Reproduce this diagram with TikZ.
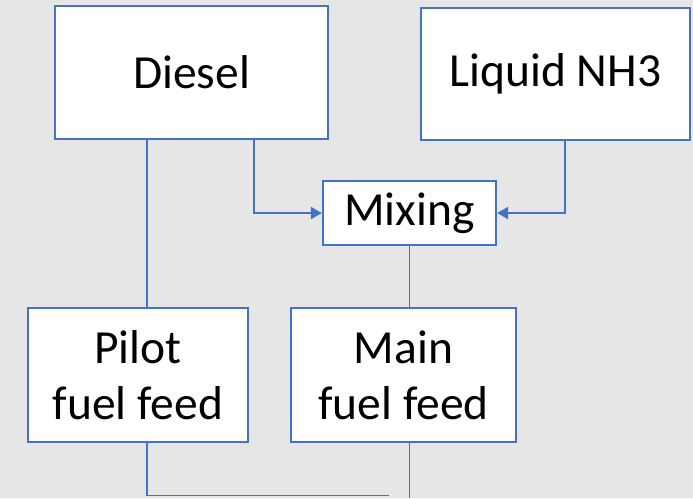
\documentclass[tikz,border=0pt]{standalone}
\usepackage{fontspec}
\setmainfont{Carlito}
\usetikzlibrary{arrows.meta}
\definecolor{bgc}{HTML}{E6E6E6}
\definecolor{bluec}{HTML}{4472C4}
\begin{document}
\begin{tikzpicture}[x=1pt,y=-1pt,
  box/.style={draw=bluec, fill=white, line width=2.2pt, inner sep=0pt, align=center,
    font=\fontsize{47.5}{56}\selectfont},
  conn/.style={draw=bluec, line width=1.4pt},
  arr/.style={conn, line width=2pt, -{Triangle[length=11pt,width=12pt]}}]
\fill[bgc] (0,0) rectangle (693,498);
\useasboundingbox (0,0) rectangle (693,498);
\node[box, minimum width=273pt, minimum height=133pt] (diesel) at (191.5,72.5) {Diesel};
\node[box, minimum width=269pt, minimum height=132pt] (nh3) at (555.5,74) {\raisebox{-2pt}{Liquid NH3}};
\node[box, minimum width=173pt, minimum height=64pt] (mixing) at (409.5,213) {\raisebox{-2pt}{Mixing}};
\node[box, minimum width=220pt, minimum height=134pt] (pilot) at (138,375) {Pilot\\fuel feed};
\node[box, minimum width=225pt, minimum height=134pt] (main) at (403.5,375) {Main\\fuel feed};
\coordinate (pl) at (147,0);
\coordinate (dl) at (254,0);
\coordinate (nl) at (565,0);
\coordinate (ml) at (409.5,0);
\coordinate (bend) at (389,495.5);
\coordinate (mend) at (409.5,498);
\draw[conn] (diesel.south -| pl) -- (pilot.north -| pl);
\draw[arr] (diesel.south -| dl) |- (mixing.west);
\draw[arr] (nh3.south -| nl) |- (mixing.east);
\draw[conn] (mixing.south) -- (main.north -| ml);
\draw[conn] (pilot.south -| pl) |- (bend);
\draw[conn] (main.south -| ml) -- (mend);
\end{tikzpicture}
\end{document}
